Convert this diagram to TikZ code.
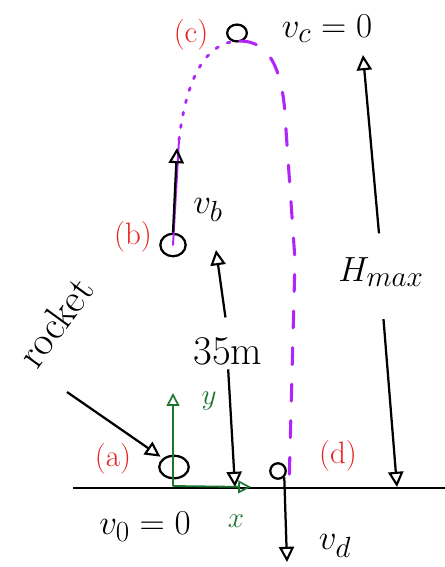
\documentclass[tikz,border=0pt]{standalone}
\usepackage{amsmath}
\usepackage{xcolor}
\usepackage{tikz}
\usetikzlibrary{arrows.meta, positioning, shapes.geometric, calc}
\definecolor{trajpurple}{RGB}{176,38,250}
\definecolor{axisgreen}{RGB}{28,118,48}
\definecolor{tagred}{RGB}{232,32,30}

\begin{document}
\begin{tikzpicture}[x=0.025cm, y=-0.025cm,
    point/.style={draw, ellipse, line width=1.6pt, inner sep=0pt},
    tag/.style={text=tagred, font=\fontsize{22}{24}\selectfont},
    txt/.style={font=\fontsize{29}{31}\selectfont, inner sep=1pt},
    vec/.style={-{Triangle[open, length=3.8mm, width=3.8mm, line width=1.5pt]}, line width=1.6pt},
    axis/.style={axisgreen, line width=1.3pt, -{Triangle[open, length=3.2mm, width=3.2mm, line width=1.2pt]}},
    traj/.style={trajpurple, line width=2.2pt, line cap=round}
]
    \useasboundingbox (0,0) rectangle (445,567);

    % Ground
    \coordinate (g0) at (73,488);
    \coordinate (g1) at (445,488);
    \draw[line width=1.6pt] (g0) -- (g1);

    % Positions of the rocket
    \node[point, minimum width=21pt, minimum height=16pt] (a) at (174,467) {};
    \node[point, minimum width=18pt, minimum height=16pt] (b) at (173,245) {};
    \node[point, minimum width=14pt, minimum height=12pt] (c) at (237,33) {};
    \node[point, minimum width=11pt, minimum height=11pt] (d) at (278,471) {};

    \node[tag] (ta) at (113,459) {(a)};
    \node[tag] (tb) at (133,237) {(b)};
    \node[tag] (tc) at (191,35) {(c)};
    \node[tag] (td) at (338,456) {(d)};

    % Trajectory
    \coordinate (burn) at (179,140);
    \coordinate (top) at (240,41);
    \coordinate (fall) at (286,130);
    \draw[traj, line width=1.4pt] (b.center) -- (burn);
    \draw[traj, line width=2pt, dash pattern=on 2pt off 7pt] (burn) .. controls (186,80) and (205,41) .. (top);
    \draw[traj, dash pattern=on 12pt off 14pt] (top) .. controls (270,41) and (284,70) .. (fall) -- (295,260) -- (289,488);

    % Velocities
    \coordinate (btip) at (177,148);
    \draw[vec] (b.north) -- (btip);
    \node[txt] (vb) at (208,210) {$v_b$};
    \node[txt] (vc) at (327,29) {$v_c=0$};
    \node[txt] (v0) at (145,527) {$v_0=0$};
    \coordinate (dtip) at (287,562);
    \draw[vec] (d.-45) -- (dtip);
    \node[txt] (vd) at (335,546) {$v_d$};

    % Heights
    \node[txt] (h) at (228,351) {35m};
    \coordinate (htop) at (216,250);
    \coordinate (hbot) at (235,487);
    \draw[vec, shorten <=13pt] (h.north) -- (htop);
    \draw[vec, shorten <=2pt] (h.south) -- (hbot);

    \node[txt] (hm) at (381,272) {$H_{max}$};
    \coordinate (hmtop) at (363,55);
    \coordinate (hmbot) at (397,487);
    \draw[vec, shorten <=16pt] (hm.north) -- (hmtop);
    \draw[vec, shorten <=22pt] (hm.south) -- (hmbot);

    % Axes at launch point
    \coordinate (o) at (173,486);
    \coordinate (yend) at (173,393);
    \coordinate (xend) at (251,487);
    \draw[axis] (o) -- (yend);
    \draw[axis] (o) -- (xend);
    \node[axisgreen, font=\fontsize{22}{24}\selectfont] (ylab) at (209,401) {$y$};
    \node[axisgreen, font=\fontsize{22}{24}\selectfont] (xlab) at (236,521) {$x$};

    % Rocket label
    \node[txt, rotate=54] (rk) at (55,322) {rocket};
    \coordinate (rs) at (67,392);
    \draw[vec, shorten >=2pt] (rs) -- (a.north west);
\end{tikzpicture}
\end{document}
